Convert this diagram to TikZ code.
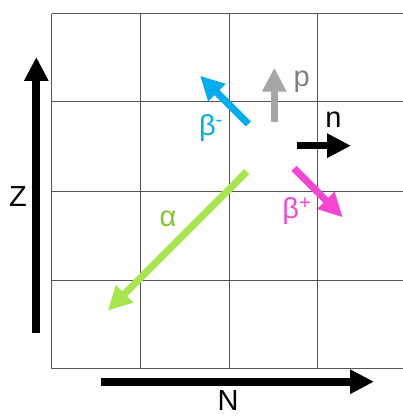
\documentclass[tikz,border=0pt]{standalone}
\usepackage{fontspec}
\setmainfont{Liberation Sans}
\usetikzlibrary{arrows.meta}
\definecolor{gridc}{HTML}{555555}
\definecolor{bminus}{HTML}{00AEEF}
\definecolor{pgray}{HTML}{A6A6A6}
\definecolor{plab}{HTML}{808080}
\definecolor{bplus}{HTML}{F545D3}
\definecolor{alph}{HTML}{A6E64C}
\definecolor{alphlab}{HTML}{7CC92E}
\begin{document}
\begin{tikzpicture}[x=1pt,y=-1pt,
  gridline/.style={draw=gridc,line width=1pt},
  bigarrow/.style={line width=8pt,-{Triangle[width=23pt,length=24pt]}},
  smallarrow/.style={line width=7pt,-{Triangle[width=23pt,length=24pt]}},
  lab/.style={font=\fontsize{29}{29}\selectfont,inner sep=0pt}]
\useasboundingbox (0,0) rectangle (403,417);
\fill[white] (0,0) rectangle (403,417);
% grid
\foreach \x in {51.7,140.3,229,317.3} \draw[gridline] (\x,13.7) -- (\x,368.7);
\foreach \y in {13.7,102,191,280,368.7} \draw[gridline] (51.7,\y) -- (410,\y);
% axes
\coordinate (zs) at (36.3,333);
\coordinate (ze) at (36.3,57);
\draw[bigarrow,black] (zs) -- (ze);
\node[lab] (zl) at (18,197) {Z};
\coordinate (ns) at (101,381.7);
\coordinate (ne) at (374,381.7);
\draw[bigarrow,black] (ns) -- (ne);
\node[lab,anchor=north] (nl) at (228,390.5) {N};
% decays
\coordinate (as) at (246.7,171.7);
\coordinate (ae) at (107.7,310.7);
\draw[smallarrow,alph] (as) -- (ae);
\node[lab,text=alphlab] (al) at (168,219) {α};
\coordinate (bms) at (248.3,124);
\coordinate (bme) at (200,75.7);
\draw[smallarrow,bminus] (bms) -- (bme);
\node[lab,text=bminus] (bml) at (211,128) {β\textsuperscript{-}};
\coordinate (ps) at (274.3,121.7);
\coordinate (pe) at (274.3,67.7);
\draw[smallarrow,pgray] (ps) -- (pe);
\node[lab,text=plab] (pl) at (301.7,82) {p};
\coordinate (nns) at (296.7,145.7);
\coordinate (nne) at (351,145.7);
\draw[smallarrow,black] (nns) -- (nne);
\node[lab] (nnl) at (333.5,120) {n};
\coordinate (bps) at (294,168.3);
\coordinate (bpe) at (342.7,217.3);
\draw[smallarrow,bplus] (bps) -- (bpe);
\node[lab,text=bplus] (bpl) at (297,211) {β\textsuperscript{+}};
\end{tikzpicture}
\end{document}
